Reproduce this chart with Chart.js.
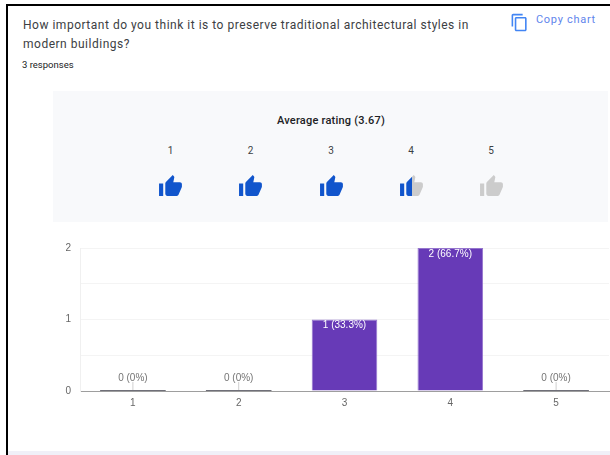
<!DOCTYPE html>
<html>
<head>
<meta charset="utf-8">
<script src="https://cdn.jsdelivr.net/npm/chart.js@4"></script>
<style>
  html, body { margin: 0; padding: 0; background: #fff; }
  body { width: 610px; height: 455px; position: relative; overflow: hidden; font-family: Roboto, sans-serif; }
  .frame-top { position: absolute; left: 6px; top: 4px; width: 604px; height: 2px; background: #000; }
  .frame-left { position: absolute; left: 6px; top: 4px; width: 2px; height: 451px; background: #000; }
  .footer { position: absolute; left: 8px; top: 451px; width: 602px; height: 4px; background: #f0f0f8; }
  .title { position: absolute; left: 23px; top: 16px; white-space: nowrap; font-size: 12px; line-height: 19px; color: #3c4043; letter-spacing: 0.51px; }
  .count { position: absolute; left: 22px; top: 59px; font-size: 9.5px; color: #202124; }
  .copy { position: absolute; left: 536px; top: 13px; font-size: 11px; color: #5f85ec; letter-spacing: 0.7px; }
  .copy-icon { position: absolute; left: 510px; top: 13px; }
  .panel { position: absolute; left: 53px; top: 91px; width: 555px; height: 131px; background: #f8f9fb; }
  .average { position: absolute; left: 53px; top: 114px; width: 556px; text-align: center; font-size: 11px; font-weight: 500; color: #202124; letter-spacing: 0.22px; }
  .rate { position: absolute; top: 145px; width: 40px; text-align: center; font-size: 10px; color: #3c4043; }
  .thumb { position: absolute; top: 174px; }
  #chart { position: absolute; left: 55px; top: 233px; }
</style>
</head>
<body>
<div class="frame-top"></div>
<div class="frame-left"></div>
<div class="footer"></div>

<div class="title">How important do you think it is to preserve traditional architectural styles in<br>modern buildings?</div>
<div class="count">3 responses</div>
<svg class="copy-icon" width="19" height="19" viewBox="0 0 24 24"><path fill="#4285f4" d="M16 1H4c-1.1 0-2 .9-2 2v14h2V3h12V1zm3 4H8c-1.1 0-2 .9-2 2v14c0 1.1.9 2 2 2h11c1.1 0 2-.9 2-2V7c0-1.1-.9-2-2-2zm0 16H8V7h11v14z"/></svg>
<div class="copy">Copy chart</div>

<div class="panel"></div>
<div class="average">Average rating (3.67)</div>
<div id="ratings"></div>

<canvas id="chart" width="555" height="197"></canvas>

<script>
const categories = ['1', '2', '3', '4', '5'];
const counts = [0, 0, 1, 2, 0];
const valueLabels = ['0 (0%)', '0 (0%)', '1 (33.3%)', '2 (66.7%)', '0 (0%)'];
const yTicks = [0, 1, 2];

// rating row above the chart: how much of each thumb is coloured in
const thumbCentres = [170.5, 250.5, 331, 411, 491];
const thumbFill = [1, 1, 1, 0.52, 0];

const thumbPath = 'M1 21h4V9H1v12zm22-11c0-1.1-.9-2-2-2h-6.31l.95-4.57.03-.32c0-.41-.17-.79-.44-1.06L14.17 1 7.59 7.59C7.22 7.95 7 8.45 7 9v10c0 1.1.9 2 2 2h9c.83 0 1.54-.5 1.8-1.22l3.02-7.05c.08-.23.13-.47.13-.73v-2z';

let ratingHtml = '';
categories.forEach((c, i) => {
  const x = thumbCentres[i];
  const stop = thumbFill[i] * 100;
  ratingHtml += `<div class="rate" style="left:${x - 20}px">${c}</div>`;
  ratingHtml += `<svg class="thumb" style="left:${x - 12.5}px" width="25" height="25" viewBox="0 0 24 24">
    <defs><linearGradient id="fill${i}" x1="1" x2="23" gradientUnits="userSpaceOnUse">
      <stop offset="${stop}%" stop-color="#1155cc"/><stop offset="${stop}%" stop-color="#cccccc"/>
    </linearGradient></defs>
    <path fill="url(#fill${i})" d="${thumbPath}"/></svg>`;
});
document.getElementById('ratings').innerHTML = ratingHtml;

// value labels above or inside the bars, with the stub line for empty categories
const barLabels = {
  id: 'barLabels',
  afterDatasetsDraw(chart) {
    const ctx = chart.ctx;
    const y = chart.scales.y;
    const bars = chart.getDatasetMeta(0).data;
    ctx.save();
    ctx.font = '10px "Liberation Sans"';
    ctx.textAlign = 'center';
    bars.forEach((bar, i) => {
      if (counts[i] === 0) {
        const base = y.getPixelForValue(0);
        ctx.fillStyle = '#6f6f78';
        ctx.fillRect(bar.x - bar.width / 2, base - 1, bar.width, 1);
        ctx.fillStyle = '#cfcfcf';
        ctx.fillRect(bar.x - 0.5, base - 9, 1, 8);
        ctx.fillStyle = '#757575';
        ctx.textBaseline = 'bottom';
        ctx.fillText(valueLabels[i], bar.x, base - 8);
      } else {
        ctx.fillStyle = '#ffffff';
        ctx.textBaseline = 'top';
        ctx.fillText(valueLabels[i], bar.x, bar.y + 1);
      }
    });
    ctx.restore();
  }
};

const chart = new Chart(document.getElementById('chart').getContext('2d'), {
  type: 'bar',
  data: {
    labels: categories,
    datasets: [{
      data: counts,
      backgroundColor: '#673ab7',
      borderColor: '#9575cd',
      borderWidth: 1,
      categoryPercentage: 1,
      barPercentage: 0.62
    }]
  },
  options: {
    responsive: false,
    animation: false,
    layout: { padding: { top: 2, right: 1, left: 0, bottom: 0 } },
    plugins: { legend: { display: false }, tooltip: { enabled: false } },
    scales: {
      x: {
        grid: { display: false, drawTicks: false },
        border: { color: '#9e9e9e' },
        ticks: { color: '#666666', font: { family: 'Liberation Sans', size: 10 }, padding: 6, maxRotation: 0 },
        afterFit(scale) { scale.height = 39; }
      },
      y: {
        min: 0,
        max: 2,
        grid: { color: '#f4f4f4', drawTicks: false },
        border: { color: '#f0f0f0' },
        ticks: {
          stepSize: 0.5,
          color: '#666666',
          padding: 9,
          font: { family: 'Liberation Sans', size: 10 },
          callback: v => yTicks.includes(v) ? String(v) : ''
        },
        afterFit(scale) { scale.width = 25; }
      }
    }
  },
  plugins: [barLabels]
});
</script>
</body>
</html>
